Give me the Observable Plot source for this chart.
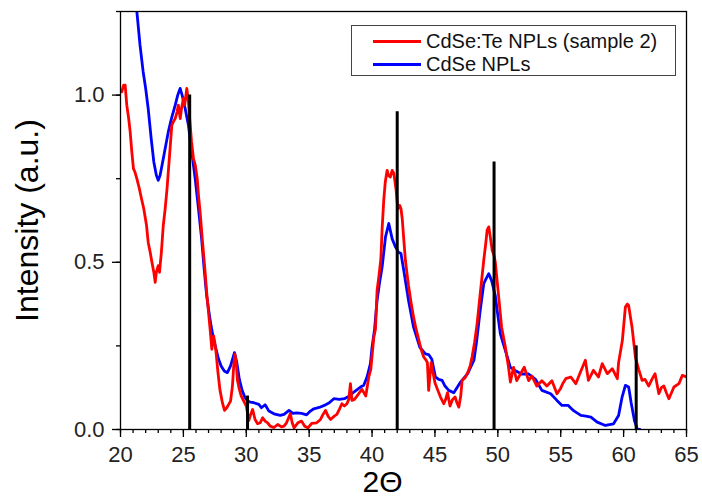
<!DOCTYPE html>
<html>
<head>
<meta charset="utf-8">
<script src="https://cdn.jsdelivr.net/npm/d3@7"></script>
<script src="https://cdn.jsdelivr.net/npm/@observablehq/plot@0.6"></script>
<style>
  body { margin: 0; background: #fff; }
  #wrap { position: relative; width: 702px; height: 502px; font-family: "Liberation Sans", Arial, sans-serif; }
  #legend { position: absolute; left: 351px; top: 25px; width: 323px; height: 49px; border: 1px solid #444; background: #fff; }
  .row { position: absolute; left: 0; height: 24px; display: flex; align-items: center; font-size: 20px; color: #111; }
  .sw { width: 48px; height: 3px; margin-left: 21px; margin-right: 5px; }
</style>
</head>
<body>
<div id="wrap">
  <div id="chart"></div>
  <div id="legend">
    <div class="row" style="top:3px"><div class="sw" style="background:#ff0000"></div><span>CdSe:Te NPLs (sample 2)</span></div>
    <div class="row" style="top:26px"><div class="sw" style="background:#0000ff"></div><span>CdSe NPLs</span></div>
  </div>
</div>
<script>
// CdSe:Te NPLs (sample 2) — red
const redX = [20.1,20.25,20.37,20.5,20.65,20.77,20.9,21.03,21.15,21.3,21.5,21.67,21.85,22.07,22.2,22.36,22.5,22.65,22.76,22.85,23.0,23.1,23.25,23.4,23.55,23.7,23.9,24.08,24.2,24.35,24.5,24.6,24.75,24.85,25.0,25.1,25.27,25.4,25.5,25.65,25.8,25.95,26.1,26.2,26.33,26.5,26.73,26.85,27.0,27.15,27.26,27.4,27.5,27.6,27.75,27.9,28.1,28.27,28.45,28.6,28.75,28.9,29.0,29.1,29.2,29.3,29.45,29.6,29.8,30.0,30.2,30.35,30.5,30.7,30.9,31.1,31.3,31.5,31.7,31.9,32.2,32.5,32.8,33.0,33.2,33.5,33.65,33.8,34.1,34.4,34.65,34.9,35.2,35.6,35.9,36.1,36.3,36.5,36.7,37.0,37.2,37.4,37.6,37.8,38.0,38.15,38.28,38.4,38.6,38.8,39.0,39.2,39.5,39.74,39.9,40.14,40.27,40.4,40.55,40.7,40.8,40.93,41.05,41.2,41.3,41.45,41.6,41.73,41.9,42.05,42.2,42.3,42.4,42.5,42.65,42.8,42.9,43.1,43.3,43.5,43.7,43.9,44.1,44.25,44.4,44.5,44.6,44.7,44.85,45.0,45.2,45.44,45.7,45.85,46.0,46.2,46.4,46.6,46.75,46.9,47.05,47.16,47.4,47.6,47.8,47.95,48.15,48.35,48.6,48.88,49.05,49.15,49.28,49.4,49.55,49.7,49.8,50.07,50.3,50.6,50.85,51.0,51.25,51.5,51.8,52.1,52.45,52.7,53.1,53.5,53.9,54.3,54.7,54.98,55.2,55.4,55.8,56.2,56.57,56.96,57.2,57.6,58.0,58.3,58.7,59.1,59.5,59.6,59.9,60.14,60.3,60.4,60.67,60.94,61.2,61.47,61.7,62.0,62.25,62.5,62.8,63.0,63.2,63.4,63.6,64.0,64.4,64.67,65.0];
const redY = [1.01,1.03,1.03,0.97,0.93,0.89,0.83,0.78,0.77,0.75,0.72,0.69,0.66,0.61,0.56,0.53,0.50,0.47,0.44,0.47,0.49,0.47,0.53,0.61,0.66,0.72,0.82,0.91,0.92,0.93,0.95,0.97,0.93,0.96,0.99,0.97,1.02,0.98,0.93,0.86,0.81,0.79,0.75,0.70,0.65,0.57,0.47,0.41,0.35,0.29,0.24,0.28,0.26,0.23,0.17,0.12,0.08,0.057,0.065,0.075,0.085,0.13,0.19,0.225,0.2,0.147,0.12,0.1,0.085,0.07,0.027,0.045,0.06,0.03,0.017,0.02,0.035,0.025,0.02,0.01,0.006,0.015,0.008,0.01,0.02,0.047,0.02,0.005,0.02,0.025,0.01,0.005,0.018,0.02,0.03,0.045,0.057,0.04,0.03,0.04,0.045,0.06,0.077,0.07,0.077,0.09,0.137,0.087,0.09,0.1,0.11,0.12,0.1,0.157,0.18,0.276,0.3,0.416,0.46,0.51,0.6,0.686,0.74,0.775,0.76,0.755,0.775,0.766,0.72,0.66,0.67,0.66,0.63,0.58,0.506,0.46,0.43,0.38,0.336,0.30,0.27,0.24,0.217,0.21,0.2,0.117,0.16,0.2,0.17,0.14,0.12,0.097,0.077,0.09,0.11,0.07,0.09,0.097,0.08,0.067,0.1,0.147,0.155,0.17,0.19,0.217,0.26,0.316,0.406,0.506,0.56,0.596,0.606,0.576,0.536,0.52,0.5,0.396,0.306,0.246,0.186,0.142,0.186,0.146,0.166,0.186,0.146,0.16,0.13,0.146,0.13,0.146,0.107,0.122,0.14,0.152,0.157,0.137,0.172,0.207,0.147,0.177,0.157,0.197,0.167,0.182,0.152,0.2,0.266,0.366,0.375,0.371,0.306,0.216,0.18,0.147,0.15,0.13,0.15,0.167,0.107,0.125,0.13,0.11,0.092,0.127,0.137,0.162,0.157];

// CdSe NPLs — blue
const blueX = [21.15,21.3,21.55,21.8,22.0,22.2,22.44,22.65,22.85,23.0,23.15,23.4,23.6,23.8,24.05,24.35,24.55,24.74,24.9,25.14,25.4,25.7,25.94,26.2,26.45,26.65,26.85,27.0,27.2,27.4,27.6,27.8,28.0,28.25,28.5,28.75,29.06,29.25,29.45,29.67,29.9,30.1,30.33,30.6,31.0,31.2,31.5,31.8,32.2,32.7,33.0,33.4,33.7,34.0,34.4,34.8,35.1,35.37,35.8,36.2,36.6,36.96,37.4,37.8,38.2,38.55,39.08,39.34,39.6,39.87,40.0,40.2,40.4,40.6,40.8,41.07,41.33,41.6,41.86,42.1,42.3,42.52,42.9,43.3,43.8,44.24,44.5,44.75,45.04,45.3,45.57,45.8,46.1,46.5,47.0,47.6,48.1,48.3,48.6,48.88,49.0,49.28,49.5,49.8,49.95,50.2,50.6,51.0,51.4,51.9,52.45,53.0,53.5,54.2,54.7,55.1,55.6,56.0,56.2,56.6,57.0,57.4,57.9,58.55,59.2,59.6,59.88,60.14,60.4,60.6,60.86,61.1,61.3];
const blueY = [1.30,1.25,1.15,1.07,1.02,0.96,0.87,0.80,0.76,0.745,0.76,0.81,0.85,0.89,0.93,0.97,1.0,1.02,1.0,0.96,0.91,0.82,0.75,0.66,0.57,0.48,0.40,0.36,0.31,0.27,0.24,0.21,0.19,0.175,0.17,0.19,0.23,0.2,0.15,0.117,0.095,0.085,0.082,0.08,0.075,0.065,0.074,0.055,0.047,0.042,0.045,0.057,0.048,0.05,0.048,0.044,0.055,0.062,0.066,0.072,0.08,0.092,0.09,0.092,0.1,0.112,0.127,0.132,0.157,0.197,0.246,0.3,0.386,0.44,0.486,0.576,0.616,0.57,0.546,0.53,0.526,0.476,0.386,0.306,0.246,0.226,0.224,0.21,0.157,0.15,0.147,0.13,0.117,0.11,0.14,0.167,0.207,0.26,0.356,0.436,0.446,0.466,0.446,0.4,0.356,0.286,0.236,0.186,0.176,0.166,0.166,0.15,0.117,0.107,0.087,0.072,0.072,0.057,0.052,0.042,0.04,0.037,0.022,0.012,0.017,0.042,0.097,0.132,0.127,0.08,0.027,0.0,0.0];

// reference pattern sticks
const stickX = [25.5, 30.1, 42.0, 49.7, 61.0];
const stickY = [1.0, 0.1, 0.95, 0.8, 0.25];

const xMajor = [20, 25, 30, 35, 40, 45, 50, 55, 60, 65];
const xMinor = d3.range(20, 66, 1);
const yMajor = [0, 0.5, 1.0];
const yMinor = [0, 0.25, 0.5, 0.75, 1.0, 1.25];

const red = redX.map((x, i) => ({x, y: redY[i]}));
const blue = blueX.map((x, i) => ({x, y: blueY[i]}));
const sticks = stickX.map((x, i) => ({x, y: stickY[i]}));

const font = "Liberation Sans, Arial, sans-serif";

const chart = Plot.plot({
  width: 702,
  height: 502,
  marginLeft: 120,
  marginRight: 16,
  marginTop: 11,
  marginBottom: 73,
  style: {fontFamily: font, background: "#fff", color: "#000"},
  x: {domain: [20, 65]},
  y: {domain: [0, 1.25]},
  marks: [
    Plot.line(blue, {x: "x", y: "y", stroke: "#0000ff", strokeWidth: 2.8, clip: true}),
    Plot.line(red, {x: "x", y: "y", stroke: "#ff0000", strokeWidth: 2.8, clip: true}),
    Plot.ruleX(sticks, {x: "x", y1: 0, y2: "y", stroke: "#000", strokeWidth: 3}),
    Plot.frame({stroke: "#000", strokeWidth: 1.3}),
    Plot.axisX({ticks: xMinor, tickSize: 4, tickFormat: () => "", strokeWidth: 1.3, label: null}),
    Plot.axisX({ticks: xMajor, tickSize: 8, tickPadding: 9, tickFormat: d3.format("d"), fontSize: 22, fill: "#222", strokeWidth: 1.3, label: null}),
    Plot.axisY({ticks: yMinor, tickSize: 4, tickFormat: () => "", strokeWidth: 1.3, label: null}),
    Plot.axisY({ticks: yMajor, tickSize: 8, tickPadding: 8, tickFormat: d3.format(".1f"), fontSize: 22, fill: "#222", strokeWidth: 1.3, label: null}),
    Plot.text(["Intensity (a.u.)"], {frameAnchor: "left", dx: -93, rotate: -90, textAnchor: "middle", lineAnchor: "middle", fontSize: 32, fill: "#000", text: d => d}),
    Plot.text(["2Θ"], {frameAnchor: "bottom", dx: -21, dy: 53, textAnchor: "middle", lineAnchor: "middle", fontSize: 30, fill: "#000", text: d => d})
  ]
});
document.getElementById("chart").appendChild(chart);
</script>
</body>
</html>
